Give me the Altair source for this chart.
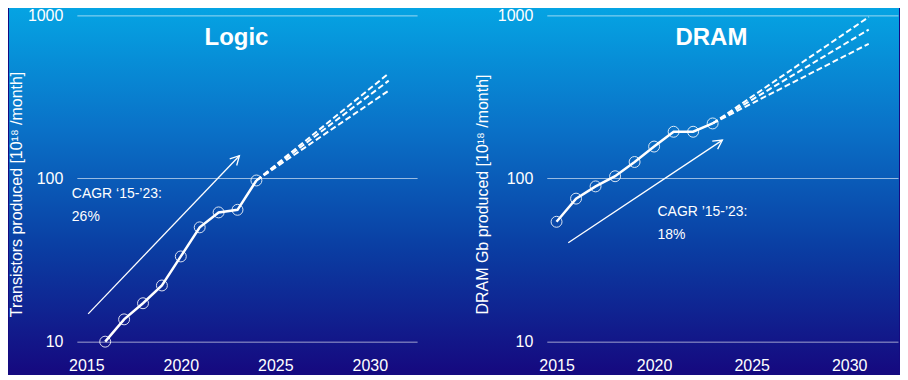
import altair as alt
import pandas as pd

FONT = "Liberation Sans"

# ---------------- data ----------------
x_ticks = [2015, 2020, 2025, 2030]
y_ticks = [10, 100, 1000]

logic_years = [2016, 2017, 2018, 2019, 2020, 2021, 2022, 2023, 2024]
logic_values = [10, 13.7, 17.2, 22.1, 33.3, 50.2, 62.0, 64.3, 97.3]
logic_proj_year = 2031
logic_proj_values = [441, 398, 346]
logic_arrow_from = [2015.1, 14.8]
logic_arrow_to = [2023.1, 138]

dram_years = [2015, 2016, 2017, 2018, 2019, 2020, 2021, 2022, 2023]
dram_values = [54.3, 75.3, 89.5, 103.3, 126.3, 157, 193.5, 193.5, 217.6]
dram_proj_year = 2031
dram_proj_values = [977, 819, 670]
dram_arrow_from = [2015.6, 40.4]
dram_arrow_to = [2023.5, 172]

GRAD = alt.LinearGradient(
    gradient="linear",
    stops=[
        alt.GradientStop(color="#05a4e3", offset=0),
        alt.GradientStop(color="#0a72c8", offset=0.33),
        alt.GradientStop(color="#0a3ea3", offset=0.66),
        alt.GradientStop(color="#150a80", offset=1),
    ],
    x1=0, x2=0, y1=0, y2=1,
)

ARROW_HEAD = "M-0.47,0.88L0,0L0.47,0.88"
PLOT_H = 327


def panel(title, ytitle, years, values, proj_year, proj_values, a_from, a_to,
          head_angle, cagr_label, cagr_value, cagr_x, cagr_y, title_x,
          width, bg_x, bg_x2, title_axis_x):
    line_df = pd.DataFrame({"year": years, "value": values})
    rows = []
    for i, v in enumerate(proj_values):
        rows.append({"year": years[-1], "value": values[-1], "s": i})
        rows.append({"year": proj_year, "value": v, "s": i})
    proj_df = pd.DataFrame(rows)
    arrow_df = pd.DataFrame({"year": [a_from[0]], "value": [a_from[1]],
                             "x2": [a_to[0]], "y2": [a_to[1]]})
    dummy = pd.DataFrame({"k": [0]})

    xscale = alt.Scale(domain=[2014.5, 2032.5], nice=False, zero=False)
    yscale = alt.Scale(type="log", domain=[10, 1000], nice=False)

    x_axis = alt.Axis(values=x_ticks, format="d", grid=False, domain=False,
                      ticks=False, tickSize=0, labelColor="white",
                      labelFontSize=16, labelFont=FONT, labelPadding=24,
                      labelBaseline="middle", title=None, zindex=1)
    y_axis = alt.Axis(values=y_ticks, format="d", grid=True, gridColor="white",
                      gridOpacity=0.6, gridWidth=1, domain=False, ticks=False,
                      tickSize=0, labelColor="white", labelFontSize=16,
                      labelFont=FONT, labelPadding=14, title=ytitle,
                      titleFont=FONT, titleFontSize=16, titleFontWeight="normal",
                      titleColor="white", titleX=title_axis_x, titleY=179,
                      zindex=1)

    bg = alt.Chart(dummy).mark_rect(fill=GRAD, strokeWidth=0).encode(
        x=alt.value(bg_x), x2=alt.value(bg_x2),
        y=alt.value(-8), y2=alt.value(356))

    line = alt.Chart(line_df).mark_line(color="white", strokeWidth=2.5).encode(
        x=alt.X("year:Q", scale=xscale, axis=x_axis),
        y=alt.Y("value:Q", scale=yscale, axis=y_axis))

    pts = alt.Chart(line_df).mark_point(
        filled=False, stroke="white", strokeWidth=1, opacity=0.85, size=120
    ).encode(x="year:Q", y="value:Q")

    proj = alt.Chart(proj_df).mark_line(
        color="white", strokeWidth=2, strokeDash=[6, 3]
    ).encode(x="year:Q", y="value:Q", detail="s:N")

    shaft = alt.Chart(arrow_df).mark_rule(color="white", strokeWidth=1.3).encode(
        x="year:Q", y="value:Q", x2="x2:Q", y2="y2:Q")

    head = alt.Chart(arrow_df).mark_point(
        shape=ARROW_HEAD, filled=False, stroke="white", strokeWidth=1.3,
        size=420, angle=head_angle, opacity=1
    ).encode(x="x2:Q", y="y2:Q")

    t_title = alt.Chart(dummy).mark_text(
        text=title, font=FONT, fontSize=24, fontWeight="bold", color="white",
        align="center", baseline="middle"
    ).encode(x=alt.value(title_x), y=alt.value(23))

    t_c1 = alt.Chart(dummy).mark_text(
        text=cagr_label, font=FONT, fontSize=14, color="white",
        align="left", baseline="middle"
    ).encode(x=alt.value(cagr_x), y=alt.value(cagr_y))

    t_c2 = alt.Chart(dummy).mark_text(
        text=cagr_value, font=FONT, fontSize=14, color="white",
        align="left", baseline="middle"
    ).encode(x=alt.value(cagr_x), y=alt.value(cagr_y + 23))

    return alt.layer(bg, line, proj, pts, shaft, head, t_title, t_c1, t_c2).properties(
        width=width, height=PLOT_H)


left = panel("Logic", "Transistors produced [10¹⁸ /month]",
             logic_years, logic_values, logic_proj_year, logic_proj_values,
             logic_arrow_from, logic_arrow_to, 43.5,
             "CAGR \u201815-\u201923:", "26%", -5, 179, 160,
             341, -68, 409, -52)

right = panel("DRAM", "DRAM Gb produced [10¹⁸ /month]",
              dram_years, dram_values, dram_proj_year, dram_proj_values,
              dram_arrow_from, dram_arrow_to, 56,
              "CAGR \u201915-\u201923:", "18%", 111, 197, 165,
              352, -66, 353, -56)

chart = alt.hconcat(left, right, spacing=130, bounds="flush").properties(
    padding={"left": 0, "top": -2, "right": 0, "bottom": 0}
).configure_view(strokeWidth=0).configure(background="#150a80")

chart.save("out.html", embed_options={"renderer": "svg", "actions": False})
